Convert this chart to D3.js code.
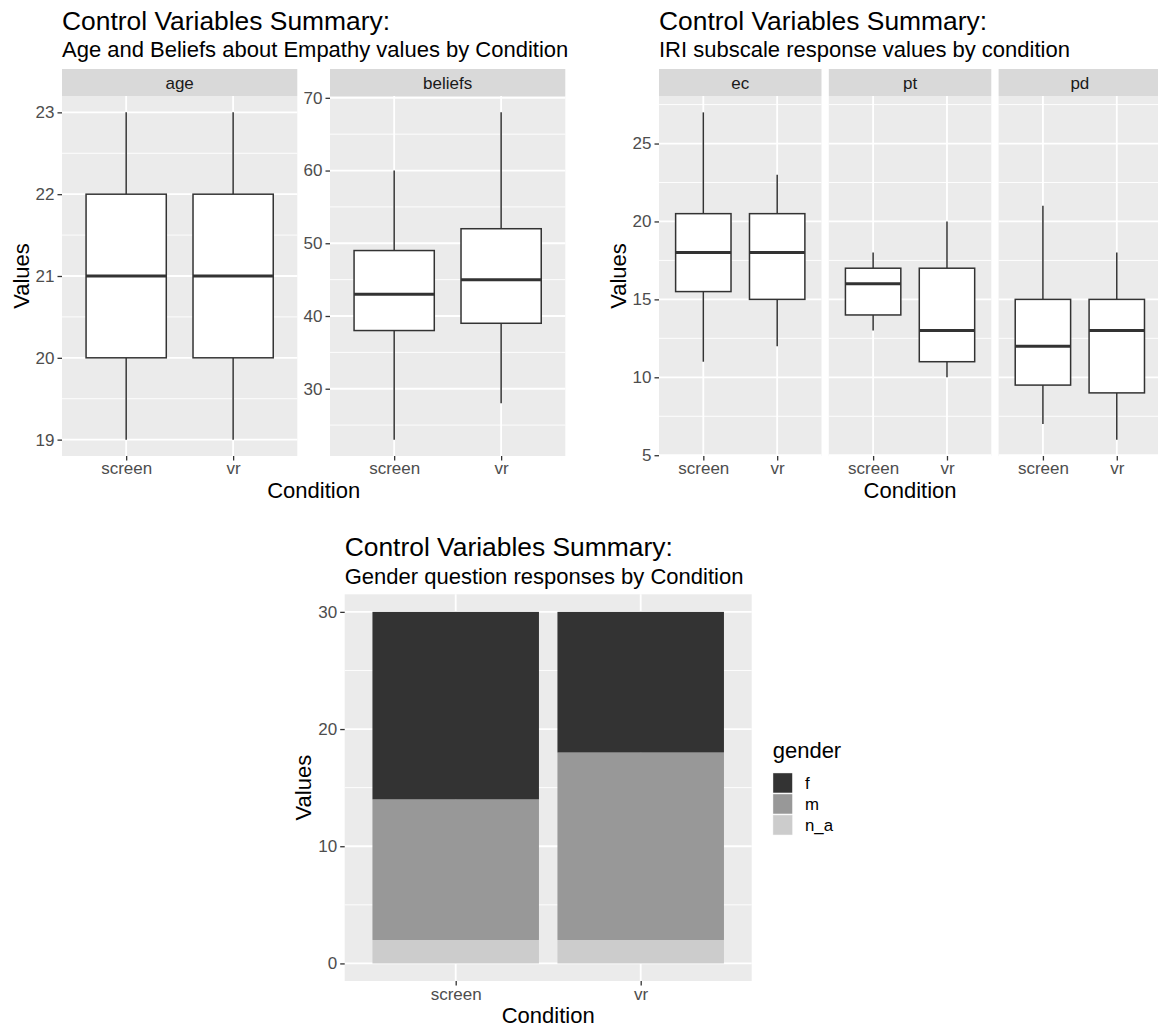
<!DOCTYPE html>
<html>
<head>
<meta charset="utf-8">
<script src="https://cdn.jsdelivr.net/npm/d3@7"></script>
<style>
  html, body { margin: 0; padding: 0; background: #ffffff; }
  svg { display: block; }
  text { font-family: "Liberation Sans", Arial, Helvetica, sans-serif; }
</style>
</head>
<body>
<svg id="chart" width="1158" height="1030"></svg>
<script>
// ---------------- DATA ----------------
const conditions = ["screen", "vr"];
// box stats per condition: [min, q1, median, q3, max]
const ageBox     = [[19, 20, 21, 22, 23], [19, 20, 21, 22, 23]];
const beliefsBox = [[23, 38, 43, 49, 60], [28, 39, 45, 52, 68]];
const ecBox      = [[11, 15.5, 18, 20.5, 27], [12, 15, 18, 20.5, 23]];
const ptBox      = [[13, 14, 16, 17, 18], [10, 11, 13, 17, 20]];
const pdBox      = [[7, 9.5, 12, 15, 21], [6, 9, 13, 15, 18]];

const genderLevels = ["f", "m", "n_a"];
const genderF  = [16, 12];
const genderM  = [12, 16];
const genderNA = [2, 2];
const genderColors = ["#333333", "#989898", "#cccccc"];

const ageTicks     = [19, 20, 21, 22, 23];
const beliefsTicks = [30, 40, 50, 60, 70];
const iriTicks     = [5, 10, 15, 20, 25];
const genderTicks  = [0, 10, 20, 30];

const titleMain = "Control Variables Summary:";
const subTL = "Age and Beliefs about Empathy values by Condition";
const subTR = "IRI subscale response values by condition";
const subB  = "Gender question responses by Condition";

// ---------------- STYLE ----------------
const PANEL_BG = "#ebebeb", STRIP_BG = "#d9d9d9", GRID = "#ffffff";
const TICK_COL = "#333333", TICK_TXT = "#4d4d4d";
const F_TITLE = 26.4, F_SUB = 22, F_AXIS = 22, F_TICK = 17, F_STRIP = 17, F_LEG = 16.8;
const LW_BOX = 1.5, LW_MED = 3.0, LW_GRID = 1.8, LW_MINOR = 0.9;

const svg = d3.select("#chart");
const fmt = d3.format("d");

function expandDomain(lo, hi) {
  const pad = (hi - lo) * 0.05;
  return [lo - pad, hi + pad];
}
function minorBreaks(ticks, domain) {
  const step = ticks[1] - ticks[0];
  const out = [];
  for (let i = -1; i < ticks.length; i++) {
    const v = ticks[0] + step * i + step / 2;
    if (v > domain[0] && v < domain[1]) out.push(v);
  }
  return out;
}

function panel(g, x0, y0, w, h, xScale, yScale, yTicks, yMinor, showY, xLabelY) {
  const pg = g.append("g");
  pg.append("rect").attr("x", x0).attr("y", y0).attr("width", w).attr("height", h)
    .attr("fill", PANEL_BG);
  pg.selectAll("line.minor").data(yMinor).join("line").attr("class", "minor")
    .attr("x1", x0).attr("x2", x0 + w)
    .attr("y1", d => yScale(d)).attr("y2", d => yScale(d))
    .attr("stroke", GRID).attr("stroke-width", LW_MINOR);
  pg.selectAll("line.major").data(yTicks).join("line").attr("class", "major")
    .attr("x1", x0).attr("x2", x0 + w)
    .attr("y1", d => yScale(d)).attr("y2", d => yScale(d))
    .attr("stroke", GRID).attr("stroke-width", LW_GRID);
  pg.selectAll("line.vmajor").data(conditions).join("line").attr("class", "vmajor")
    .attr("x1", d => xScale(d)).attr("x2", d => xScale(d))
    .attr("y1", y0).attr("y2", y0 + h)
    .attr("stroke", GRID).attr("stroke-width", LW_GRID);

  const xa = g.append("g").attr("transform", `translate(0,${y0 + h})`)
    .call(d3.axisBottom(xScale).tickSize(4.5).tickPadding(3));
  xa.select(".domain").remove();
  xa.selectAll("line").attr("stroke", TICK_COL).attr("stroke-width", 1.3);
  xa.selectAll("text").attr("fill", TICK_TXT).attr("font-size", F_TICK)
    .attr("font-family", "Liberation Sans, Arial, sans-serif")
    .attr("dy", null).attr("y", xLabelY - (y0 + h));
  if (showY) {
    const ya = g.append("g").attr("transform", `translate(${x0},0)`)
      .call(d3.axisLeft(yScale).tickValues(yTicks).tickFormat(fmt).tickSize(4.5).tickPadding(3));
    ya.select(".domain").remove();
    ya.selectAll("line").attr("stroke", TICK_COL).attr("stroke-width", 1.3);
    ya.selectAll("text").attr("fill", TICK_TXT).attr("font-size", F_TICK)
      .attr("font-family", "Liberation Sans, Arial, sans-serif");
  }
}

function strip(g, x0, y0, w, h, label) {
  g.append("rect").attr("x", x0).attr("y", y0).attr("width", w).attr("height", h)
    .attr("fill", STRIP_BG);
  g.append("text").attr("x", x0 + w / 2).attr("y", y0 + h / 2)
    .attr("dy", "0.36em").attr("text-anchor", "middle")
    .attr("font-size", F_STRIP).attr("fill", "#1a1a1a").text(label);
}

function boxes(g, xScale, yScale, stats) {
  const bw = xScale.step() * 0.75;
  const data = conditions.map((c, i) => ({ c, s: stats[i] }));
  const bg = g.append("g");
  bg.selectAll("line.wu").data(data).join("line").attr("class", "wu")
    .attr("x1", d => xScale(d.c)).attr("x2", d => xScale(d.c))
    .attr("y1", d => yScale(d.s[3])).attr("y2", d => yScale(d.s[4]))
    .attr("stroke", "#333333").attr("stroke-width", LW_BOX);
  bg.selectAll("line.wl").data(data).join("line").attr("class", "wl")
    .attr("x1", d => xScale(d.c)).attr("x2", d => xScale(d.c))
    .attr("y1", d => yScale(d.s[1])).attr("y2", d => yScale(d.s[0]))
    .attr("stroke", "#333333").attr("stroke-width", LW_BOX);
  bg.selectAll("rect.box").data(data).join("rect").attr("class", "box")
    .attr("x", d => xScale(d.c) - bw / 2).attr("width", bw)
    .attr("y", d => yScale(d.s[3])).attr("height", d => yScale(d.s[1]) - yScale(d.s[3]))
    .attr("fill", "#ffffff").attr("stroke", "#333333").attr("stroke-width", LW_BOX);
  bg.selectAll("line.med").data(data).join("line").attr("class", "med")
    .attr("x1", d => xScale(d.c) - bw / 2).attr("x2", d => xScale(d.c) + bw / 2)
    .attr("y1", d => yScale(d.s[2])).attr("y2", d => yScale(d.s[2]))
    .attr("stroke", "#333333").attr("stroke-width", LW_MED);
}

// ggplot-like discrete scale: 0.6 units of expansion each side
function discreteScale(x0, w) {
  return d3.scalePoint().domain(conditions).range([x0, x0 + w]).padding(0.6);
}

function titles(g, x, yTitle, ySub, sub) {
  g.append("text").attr("x", x).attr("y", yTitle).attr("font-size", F_TITLE)
    .attr("fill", "#000").text(titleMain);
  g.append("text").attr("x", x).attr("y", ySub).attr("font-size", F_SUB)
    .attr("fill", "#000").text(sub);
}
function axisTitles(g, cx, yCond, xVal, cyVal) {
  g.append("text").attr("x", cx).attr("y", yCond).attr("text-anchor", "middle")
    .attr("font-size", F_AXIS).attr("fill", "#000").text("Condition");
  g.append("text").attr("transform", `translate(${xVal},${cyVal}) rotate(-90)`)
    .attr("text-anchor", "middle").attr("font-size", F_AXIS).attr("fill", "#000").text("Values");
}

// ---------------- TOP LEFT ----------------
{
  const g = svg.append("g");
  const stripY = 69, stripH = 27, pY = 96, pH = 360;
  const facets = [
    { label: "age", stats: ageBox, ticks: ageTicks, x0: 62, w: 235.3 },
    { label: "beliefs", stats: beliefsBox, ticks: beliefsTicks, x0: 330, w: 235.3 }
  ];
  facets.forEach(f => {
    const all = f.stats.flat();
    const dom = expandDomain(d3.min(all), d3.max(all));
    const y = d3.scaleLinear().domain(dom).range([pY + pH, pY]);
    const x = discreteScale(f.x0, f.w);
    panel(g, f.x0, pY, f.w, pH, x, y, f.ticks.filter(t => t >= dom[0] && t <= dom[1]),
      minorBreaks(f.ticks, dom), true, 474);
    strip(g, f.x0, stripY, f.w, stripH, f.label);
    boxes(g, x, y, f.stats);
  });
  titles(g, 62, 29.5, 57, subTL);
  axisTitles(g, (62 + 565.3) / 2, 497.5, 29, pY + pH / 2);
}

// ---------------- TOP RIGHT ----------------
{
  const g = svg.append("g");
  const stripY = 69, stripH = 27, pY = 96, pH = 360;
  const x0 = 659, w = 162.5, gap = 7.3;
  const facetStats = [ecBox, ptBox, pdBox];
  const labels = ["ec", "pt", "pd"];
  const all = facetStats.flat(2);
  const dom = expandDomain(d3.min(all), d3.max(all));
  const y = d3.scaleLinear().domain(dom).range([pY + pH, pY]);
  facetStats.forEach((st, i) => {
    const px = x0 + i * (w + gap);
    const x = discreteScale(px, w);
    panel(g, px, pY, w, pH, x, y, iriTicks, minorBreaks(iriTicks, dom), i === 0, 474);
    strip(g, px, stripY, w, stripH, labels[i]);
    boxes(g, x, y, st);
  });
  titles(g, x0, 29.5, 57, subTR);
  axisTitles(g, (x0 + x0 + 3 * w + 2 * gap) / 2, 497.5, 626, pY + pH / 2);
}

// ---------------- BOTTOM ----------------
{
  const g = svg.append("g");
  const px = 344.7, pw = 407, pY = 594.3, pH = 386.7;
  const stacks = [genderNA, genderM, genderF]; // bottom to top
  const stackLevels = ["n_a", "m", "f"];
  const totals = conditions.map((c, i) => genderF[i] + genderM[i] + genderNA[i]);
  const dom = expandDomain(0, d3.max(totals));
  const y = d3.scaleLinear().domain(dom).range([pY + pH, pY]);
  const x = discreteScale(px, pw);
  panel(g, px, pY, pw, pH, x, y, genderTicks, minorBreaks(genderTicks, dom), true, 999.5);

  const rows = conditions.map((c, i) => {
    const o = { c };
    stackLevels.forEach((lv, k) => { o[lv] = stacks[k][i]; });
    return o;
  });
  const series = d3.stack().keys(stackLevels)(rows);
  const color = d3.scaleOrdinal().domain(genderLevels).range(genderColors);
  const bw = x.step() * 0.9;
  g.append("g").selectAll("g").data(series).join("g")
    .attr("fill", d => color(d.key))
    .selectAll("rect").data(d => d).join("rect")
    .attr("x", d => x(d.data.c) - bw / 2).attr("width", bw)
    .attr("y", d => y(d[1])).attr("height", d => y(d[0]) - y(d[1]));

  titles(g, px, 556, 583.5, subB);
  axisTitles(g, px + pw / 2, 1022.5, 311, pY + pH / 2);

  const lg = g.append("g");
  lg.append("text").attr("x", 772.7).attr("y", 758).attr("font-size", F_AXIS)
    .attr("fill", "#000").text("gender");
  genderLevels.forEach((lv, i) => {
    const ky = 772.7 + i * 21;
    lg.append("rect").attr("x", 772.7).attr("y", ky).attr("width", 20).attr("height", 20.5)
      .attr("fill", "#f2f2f2");
    lg.append("rect").attr("x", 773.2).attr("y", ky + 0.5).attr("width", 19).attr("height", 19.5)
      .attr("fill", color(lv));
    lg.append("text").attr("x", 805).attr("y", ky + 10.2).attr("dy", "0.36em")
      .attr("font-size", F_LEG).attr("fill", "#000").text(lv);
  });
}
</script>
</body>
</html>
